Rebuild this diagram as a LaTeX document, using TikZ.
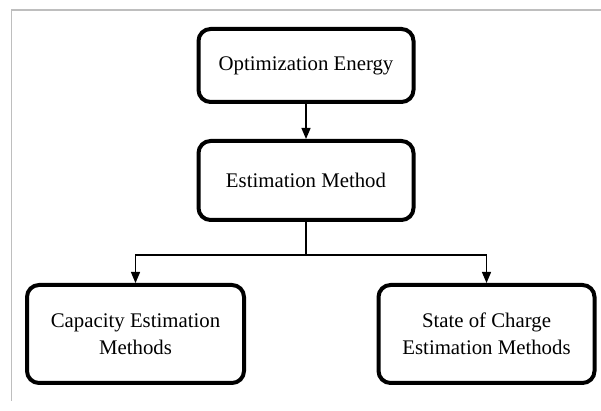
\documentclass[tikz,border=0pt]{standalone}
\usepackage{fontspec}
\setmainfont{Liberation Serif}
\usetikzlibrary{arrows.meta}
\begin{document}
\begin{tikzpicture}[x=1pt,y=1pt,
  box/.style={draw=black, line width=4pt, rounded corners=12pt, fill=white,
    align=center, font=\fontsize{20.8}{27}\selectfont, inner sep=0pt},
  conn/.style={draw=black, line width=1.3pt},
  arr/.style={conn, -{Triangle[length=11pt,width=9pt]}},
  frame/.style={draw={rgb,255:red,190;green,190;blue,190}, line width=1.6pt}
]
\useasboundingbox (0,0) rectangle (601,411);
\fill[white] (0,0) rectangle (601,411);
% gray frame
\coordinate (fa) at (11.5,10);
\coordinate (fb) at (11.5,401);
\coordinate (fc) at (601,401);
\draw[frame] (fa) -- (fb) -- (fc);
% nodes
\node[box, minimum width=215pt, minimum height=73pt] (opt) at (306,345.5) {Optimization Energy};
\node[box, minimum width=215pt, minimum height=79pt] (est) at (306,230.5) {Estimation Method};
\node[box, minimum width=217pt, minimum height=98pt] (cap) at (135.5,77) {Capacity Estimation\\Methods};
\node[box, minimum width=216pt, minimum height=98pt] (soc) at (486.5,77) {State of Charge\\Estimation Methods};
% connectors
\coordinate (j) at (306,156);
\draw[arr] (opt.south) -- (est.north);
\draw[conn] (est.south) -- (j);
\draw[arr] (j) -| (cap.north);
\draw[arr] (j) -| (soc.north);
\end{tikzpicture}
\end{document}
